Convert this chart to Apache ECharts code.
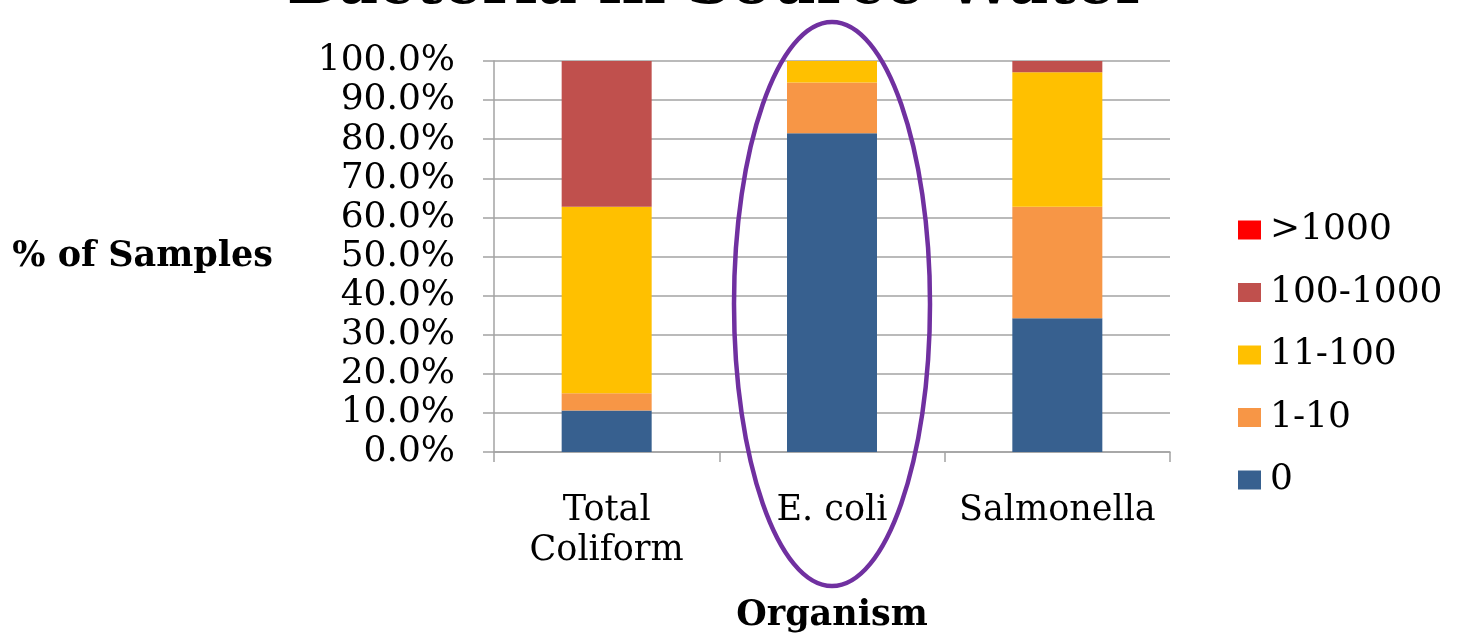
<!DOCTYPE html>
<html>
<head>
<meta charset="utf-8">
<script src="https://cdn.jsdelivr.net/npm/echarts@6/dist/echarts.min.js"></script>
<style>
  html, body { margin: 0; padding: 0; background: #ffffff; }
  #chart { width: 1458px; height: 634px; }
</style>
</head>
<body>
<div id="chart"></div>
<script>
// Organisms on the x axis
const categories = ['Total\nColiform', 'E. coli', 'Salmonella'];

// Share of samples (%) in each count range, per organism
const count0 = [10.6, 81.5, 34.2];
const count1to10 = [4.4, 13.0, 28.5];
const count11to100 = [47.7, 5.5, 34.4];
const count100to1000 = [37.3, 0, 2.9];
const countOver1000 = [0, 0, 0];

// Range names, bottom of the stack first
const rangeNames = ['0', '1-10', '11-100', '100-1000', '>1000'];
const rangeColors = ['#37608F', '#F79646', '#FFC000', '#C0504D', '#FF0000'];
const rangeValues = [count0, count1to10, count11to100, count100to1000, countOver1000];

// Value axis ticks
const yMin = 0, yMax = 100, yStep = 10;

const serif = '"DejaVu Serif", serif';
const axisGray = '#A3A3A3';

const chart = echarts.init(document.getElementById('chart'), null, { renderer: 'canvas' });

const series = rangeNames.map((name, i) => ({
  name: name,
  type: 'bar',
  stack: 'share',
  barWidth: 90,
  data: rangeValues[i],
  itemStyle: { color: rangeColors[i] },
  emphasis: { disabled: true }
}));

chart.setOption({
  animation: false,
  backgroundColor: '#ffffff',
  title: {
    text: 'Bacteria in Source Water',
    left: 287,
    top: -43,
    padding: 0,
    textStyle: { fontFamily: serif, fontWeight: 'bold', fontSize: 61, color: '#000000' }
  },
  grid: {
    left: 494, right: 288, top: 61, bottom: 182,
    containLabel: false,
    outerBoundsMode: 'none'
  },
  legend: {
    orient: 'vertical',
    left: 1238,
    top: 212,
    padding: 0,
    itemWidth: 23,
    itemHeight: 19,
    itemGap: 26.5,
    icon: 'rect',
    data: rangeNames.slice().reverse(),
    textStyle: { fontFamily: serif, fontSize: 36, color: '#000000', lineHeight: 36, padding: [0, 0, 0, 4] }
  },
  xAxis: {
    type: 'category',
    data: categories,
    name: 'Organism',
    nameLocation: 'middle',
    nameGap: 146,
    nameTextStyle: { fontFamily: serif, fontWeight: 'bold', fontSize: 35, color: '#000000' },
    axisLine: { show: true, lineStyle: { color: axisGray, width: 1.5 } },
    axisTick: { show: true, length: 10, lineStyle: { color: axisGray, width: 1.5 } },
    axisLabel: {
      margin: 39,
      fontFamily: serif,
      fontSize: 35,
      lineHeight: 40,
      color: '#000000',
      interval: 0
    },
    splitLine: { show: false }
  },
  yAxis: {
    type: 'value',
    min: yMin,
    max: yMax,
    interval: yStep,
    name: '% of Samples',
    nameLocation: 'middle',
    nameRotate: 0,
    nameGap: 221,
    nameTextStyle: { fontFamily: serif, fontWeight: 'bold', fontSize: 35, color: '#000000', align: 'right' },
    axisLine: { show: true, lineStyle: { color: axisGray, width: 1.5 } },
    axisTick: { show: true, length: 11, lineStyle: { color: axisGray, width: 1.5 } },
    axisLabel: {
      margin: 39,
      fontFamily: serif,
      fontSize: 36,
      color: '#000000',
      formatter: v => v.toFixed(1) + '%'
    },
    splitLine: { show: true, lineStyle: { color: axisGray, width: 1.5 } }
  },
  series: series
});

// Purple ring drawn around the E. coli column
const ringX = chart.convertToPixel({ xAxisIndex: 0 }, 'E. coli');
chart.setOption({
  graphic: [{
    type: 'ellipse',
    shape: { cx: ringX, cy: 304, rx: 98, ry: 282 },
    style: { fill: 'none', stroke: '#7030A0', lineWidth: 4.5 },
    z: 100,
    silent: true
  }]
});
</script>
</body>
</html>
